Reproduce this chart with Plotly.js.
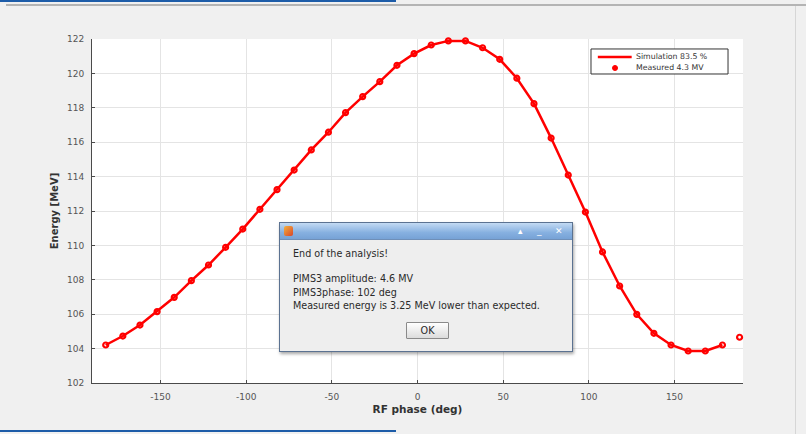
<!DOCTYPE html>
<html>
<head>
<meta charset="utf-8">
<script src="https://cdn.plot.ly/plotly-3.0.1.min.js"></script>
<style>
  html, body { margin: 0; padding: 0; background: #f0f0f0; }
  #wrap { position: relative; width: 806px; height: 434px; overflow: hidden; background: #f0f0f0; }
  #chart { position: absolute; left: 0; top: 0; width: 806px; height: 434px; }
  .chrome { position: absolute; }
  #dlg { position: absolute; left: 279px; top: 222px; width: 292px; height: 128px;
         border: 1px solid #5b7291; background: #eeeeee; box-shadow: 1px 2px 3px rgba(0,0,0,0.35);
         font-family: "DejaVu Sans", sans-serif; font-size: 9.6px; color: #2a2a2a; }
  #dlg .bar { position: absolute; left: 0; top: 0; width: 292px; height: 16px;
              background: linear-gradient(#c3daf3, #86b0e0 60%, #76a2d6); border-bottom: 1px solid #6f8fb8; }
  #dlg .ico { position: absolute; left: 4px; top: 3px; width: 9px; height: 10px;
              background: linear-gradient(135deg, #f4b13d, #d8452b); border-radius: 2px; }
  #dlg .btn { position: absolute; top: 1px; color: #fff; font-size: 9px; line-height: 14px; }
  #dlg .ln { position: absolute; left: 13px; white-space: nowrap; }
  #dlg .ok { position: absolute; left: 126px; top: 99px; width: 41px; height: 15px;
             border: 1px solid #8a8a8a; background: linear-gradient(#ffffff, #dcdcdc);
             text-align: center; line-height: 15px; font-size: 9.6px; border-radius: 1px; }
</style>
</head>
<body>
<div id="wrap">
  <div id="chart"></div>
  <div class="chrome" style="left:0;top:0;width:396px;height:2px;background:#1d5ca8;"></div>
  <div class="chrome" style="left:6px;top:4px;width:800px;height:2px;background:#b4b4b4;"></div>
  <div class="chrome" style="left:0;top:430px;width:396px;height:2px;background:#1d5ca8;"></div>
  <div class="chrome" style="left:795px;top:6px;width:1px;height:428px;background:#d6d6d6;"></div>
  <div id="dlg">
    <div class="bar">
      <div class="ico"></div>
      <div class="btn" style="left:238px;">▴</div>
      <div class="btn" style="left:257px;">_</div>
      <div class="btn" style="left:275px;">✕</div>
    </div>
    <div class="ln" style="top:25px;">End of the analysis!</div>
    <div class="ln" style="top:50px;">PIMS3 amplitude: 4.6 MV</div>
    <div class="ln" style="top:64px;">PIMS3phase: 102 deg</div>
    <div class="ln" style="top:77px;">Measured energy is 3.25 MeV lower than expected.</div>
    <div class="ok">OK</div>
  </div>
</div>
<script>
// Simulation curve (RF phase in deg, energy in MeV)
const simPhase = [-182, -172, -162, -152, -142, -132, -122, -112, -102, -92,
                  -82, -72, -62, -52, -42, -32, -22, -12, -2, 8,
                  18, 28, 38, 48, 58, 68, 78, 88, 98, 108,
                  118, 128, 138, 148, 158, 168, 178];
const simEnergy = [104.21, 104.73, 105.37, 106.15, 106.98, 107.95, 108.86, 109.89, 110.95, 112.10,
                   113.24, 114.38, 115.55, 116.58, 117.72, 118.65, 119.52, 120.47, 121.15, 121.65,
                   121.89, 121.89, 121.49, 120.82, 119.72, 118.24, 116.24, 114.09, 111.94, 109.62,
                   107.64, 105.99, 104.89, 104.21, 103.86, 103.86, 104.21];
// Measured points
const measPhase = [-182, -172, -162, -152, -142, -132, -122, -112, -102, -92,
                   -82, -72, -62, -52, -42, -32, -22, -12, -2, 8,
                   18, 28, 38, 48, 58, 68, 78, 88, 98, 108,
                   118, 128, 138, 148, 158, 168, 178, 188];
const measEnergy = [104.21, 104.73, 105.37, 106.15, 106.98, 107.95, 108.86, 109.89, 110.95, 112.10,
                    113.24, 114.38, 115.55, 116.58, 117.72, 118.65, 119.52, 120.47, 121.15, 121.65,
                    121.89, 121.89, 121.49, 120.82, 119.72, 118.24, 116.24, 114.09, 111.94, 109.62,
                    107.64, 105.99, 104.89, 104.21, 103.86, 103.86, 104.21, 104.66];
const xTicks = [-150, -100, -50, 0, 50, 100, 150];
const yTicks = [102, 104, 106, 108, 110, 112, 114, 116, 118, 120, 122];
const seriesNames = ["Simulation 83.5 %", "Measured 4.3 MV"];
const red = "#ff0000";

const traces = [
  { x: simPhase, y: simEnergy, name: seriesNames[0], type: "scatter", mode: "lines",
    line: { color: red, width: 2.5 } },
  { x: measPhase, y: measEnergy, name: seriesNames[1], type: "scatter", mode: "markers",
    cliponaxis: false,
    marker: { symbol: "circle-open", color: red, size: 5, line: { width: 2.2, color: red } } }
];

// compact MATLAB-style legend box (drawn in paper coordinates)
const lg = { x0: 0.7665, x1: 0.977, y0: 0.8983, y1: 0.971 };
const row1 = 0.9477, row2 = 0.9157;
const legendFont = { family: "DejaVu Sans", size: 7.8, color: "#333333" };
const shapes = [
  { type: "rect", xref: "paper", yref: "paper", x0: lg.x0, x1: lg.x1, y0: lg.y0, y1: lg.y1,
    fillcolor: "#ffffff", line: { color: "#333333", width: 1 }, layer: "above" },
  { type: "line", xref: "paper", yref: "paper", x0: 0.777, x1: 0.829, y0: row1, y1: row1,
    line: { color: red, width: 2.5 }, layer: "above" },
  { type: "circle", xref: "paper", yref: "paper", xsizemode: "pixel", ysizemode: "pixel",
    xanchor: 0.8034, yanchor: row2, x0: -2.5, x1: 2.5, y0: -2.5, y1: 2.5,
    fillcolor: red, line: { color: red, width: 1 }, layer: "above" }
];
const annotations = [
  { xref: "paper", yref: "paper", x: 0.833, y: row1, xanchor: "left", yanchor: "middle",
    text: seriesNames[0], showarrow: false, font: legendFont },
  { xref: "paper", yref: "paper", x: 0.833, y: row2, xanchor: "left", yanchor: "middle",
    text: seriesNames[1], showarrow: false, font: legendFont }
];

const tickFont = { family: "DejaVu Sans", size: 9, color: "#555555" };
const layout = {
  width: 806, height: 434,
  margin: { l: 92, r: 63, t: 39, b: 51, pad: 0 },
  paper_bgcolor: "#f0f0f0", plot_bgcolor: "#ffffff",
  showlegend: false,
  shapes: shapes,
  annotations: annotations,
  xaxis: {
    range: [-190, 190], tickvals: xTicks, ticktext: xTicks.map(String),
    showline: true, linecolor: "#4a4a4a", linewidth: 1, mirror: false,
    ticks: "inside", ticklen: 3, tickcolor: "#4a4a4a",
    showgrid: true, gridcolor: "#e4e4e4", zeroline: false,
    tickfont: tickFont, ticklabelstandoff: 5,
    title: { text: "RF phase (deg)", font: { family: "DejaVu Sans", size: 10.5, color: "#333333", weight: "bold" }, standoff: 4 }
  },
  yaxis: {
    range: [102, 122], tickvals: yTicks, ticktext: yTicks.map(String),
    showline: true, linecolor: "#4a4a4a", linewidth: 1, mirror: false,
    ticks: "inside", ticklen: 3, tickcolor: "#4a4a4a",
    showgrid: true, gridcolor: "#e4e4e4", zeroline: false,
    tickfont: tickFont, ticklabelstandoff: 5,
    title: { text: "Energy [MeV]", font: { family: "DejaVu Sans", size: 10, color: "#333333", weight: "bold" }, standoff: 6 }
  }
};

Plotly.newPlot("chart", traces, layout, { displayModeBar: false, staticPlot: true });
</script>
</body>
</html>
